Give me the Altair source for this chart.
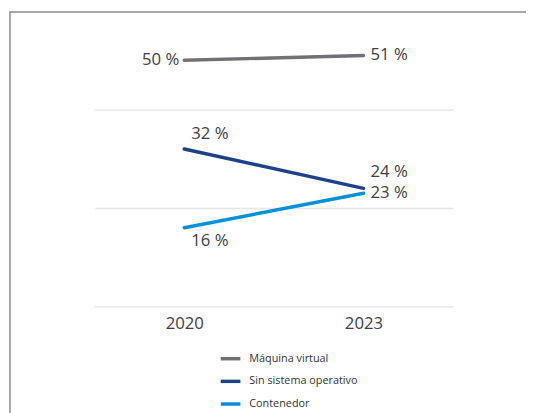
import altair as alt
import pandas as pd

years = ["2020", "2023"]
series = ["Máquina virtual", "Sin sistema operativo", "Contenedor"]
values_2020 = [50, 32, 16]
values_2023 = [51, 24, 23]
colors = ["#717074", "#1d428a", "#0091da"]
grid_values = [0, 20, 40]

rows = []
for s, v0, v1 in zip(series, values_2020, values_2023):
    for y, v in zip(years, [v0, v1]):
        rows.append({"serie": s, "year": y, "value": v,
                     "label": f"{v} %", "key": f"{s}|{y}"})
df = pd.DataFrame(rows)

FONT = "Open Sans"
TXT = "#404040"

x_enc = alt.X("year:N", scale=alt.Scale(type="point", domain=years, padding=0.5),
              axis=alt.Axis(title=None, domain=False, ticks=False, labelAngle=0,
                            labelFontSize=17, labelFont=FONT, labelColor=TXT,
                            labelPadding=9, grid=False))
y_enc = alt.Y("value:Q", scale=alt.Scale(domain=[0, 60], nice=False, zero=False),
              axis=alt.Axis(title=None, domain=False, ticks=False, labels=False,
                            values=grid_values, grid=True, gridColor="#e8e8e8",
                            gridWidth=1.5))
color_enc = alt.Color("serie:N", scale=alt.Scale(domain=series, range=colors),
                      legend=alt.Legend(title=None, orient="none", legendX=126, legendY=341,
                                        symbolType="stroke", symbolSize=400,
                                        symbolStrokeWidth=3.5, labelFontSize=11,
                                        labelFont=FONT, labelColor="#333333",
                                        labelOffset=7, rowPadding=4, padding=0))

base = alt.Chart(df)

lines = base.mark_line(strokeWidth=3.5, strokeCap="round").encode(
    x=x_enc, y=y_enc, color=color_enc, detail="serie:N")


def labels(keys, align, dx, dy):
    return base.transform_filter(
        alt.FieldOneOfPredicate(field="key", oneOf=keys)
    ).mark_text(align=align, baseline="middle", dx=dx, dy=dy, fontSize=17,
                font=FONT, color=TXT).encode(
        x=alt.X("year:N"), y=alt.Y("value:Q"), text="label:N")


lab_left = labels(["Máquina virtual|2020"], "right", -5, 0)
lab_right = labels(["Máquina virtual|2023", "Contenedor|2023"], "left", 7, 0)
lab_above1 = labels(["Sin sistema operativo|2020"], "left", 7, -15)
lab_above2 = labels(["Sin sistema operativo|2023"], "left", 7, -17)
lab_below = labels(["Contenedor|2020"], "left", 7, 14)

frame = alt.Chart(pd.DataFrame({"a": [0]})).mark_rect(
    fill=None, stroke="#8c8c8c", strokeWidth=1.5).encode(
    x=alt.value(-86), x2=alt.value(470), y=alt.value(1), y2=alt.value(430))

chart = alt.layer(
    frame, lines,
    lab_left, lab_right, lab_above1, lab_above2, lab_below
).properties(
    width=364, height=300,
    background="white",
    autosize=alt.AutoSizeParams(type="none"),
    padding={"left": 88, "top": 0, "right": 74, "bottom": 106},
).configure_view(strokeWidth=0)

chart.save("out.html", embed_options={"renderer": "svg", "actions": False})
